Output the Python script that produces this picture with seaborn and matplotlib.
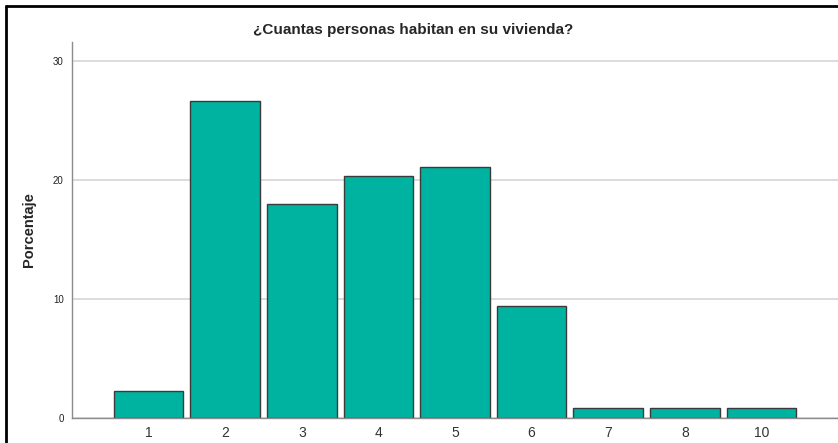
import seaborn as sns
import matplotlib.pyplot as plt
from matplotlib.lines import Line2D

# personas por vivienda y porcentaje
personas = ["1", "2", "3", "4", "5", "6", "7", "8", "10"]
porcentaje = [2.3, 26.6, 18.0, 20.3, 21.1, 9.4, 0.8, 0.8, 0.8]

sns.set_style("white")
plt.rcParams['font.family'] = ['Liberation Sans', 'DejaVu Sans']

fig = plt.figure(figsize=(8.38, 4.43), dpi=100)
ax = fig.add_axes([72/838, 25/443, 1 - 72/838, (418-42)/443])

ax.yaxis.grid(True, color="#d9d9d9", linewidth=1.3, zorder=0)
ax.set_axisbelow(True)
sns.barplot(x=personas, y=porcentaje, order=personas, color="#00b2a0",
            saturation=1, width=0.908, edgecolor="#3a3a3a", linewidth=1.0,
            ax=ax, zorder=2)

ax.set_xlim(-1, 9)
ax.set_ylim(0, 31.6)
ax.set_yticks([0, 10, 20, 30])
ax.tick_params(axis="y", labelsize=7, length=0, pad=6, labelcolor="#222222")
ax.tick_params(axis="x", labelsize=10, length=0, pad=6, labelcolor="#333333")
ax.set_xlabel("")
ax.set_ylabel("Porcentaje", fontsize=10.5, fontweight="bold", labelpad=12)

for s in ["top", "right"]:
    ax.spines[s].set_visible(False)
for s in ["left", "bottom"]:
    ax.spines[s].set_color("#8c8c8c")
    ax.spines[s].set_linewidth(1.0)

fig.text(413/838, 1 - 30/443, "¿Cuantas personas habitan en su vivienda?",
         ha="center", va="center", fontsize=11, fontweight="bold")

# marco exterior (solo visible arriba e izquierda)
fig.add_artist(Line2D([6/838, 6/838], [0, 1 - 6/443], transform=fig.transFigure,
                      color="black", linewidth=2))
fig.add_artist(Line2D([6/838, 1], [1 - 6/443, 1 - 6/443], transform=fig.transFigure,
                      color="black", linewidth=2))

fig.savefig("out.png", dpi=100)
